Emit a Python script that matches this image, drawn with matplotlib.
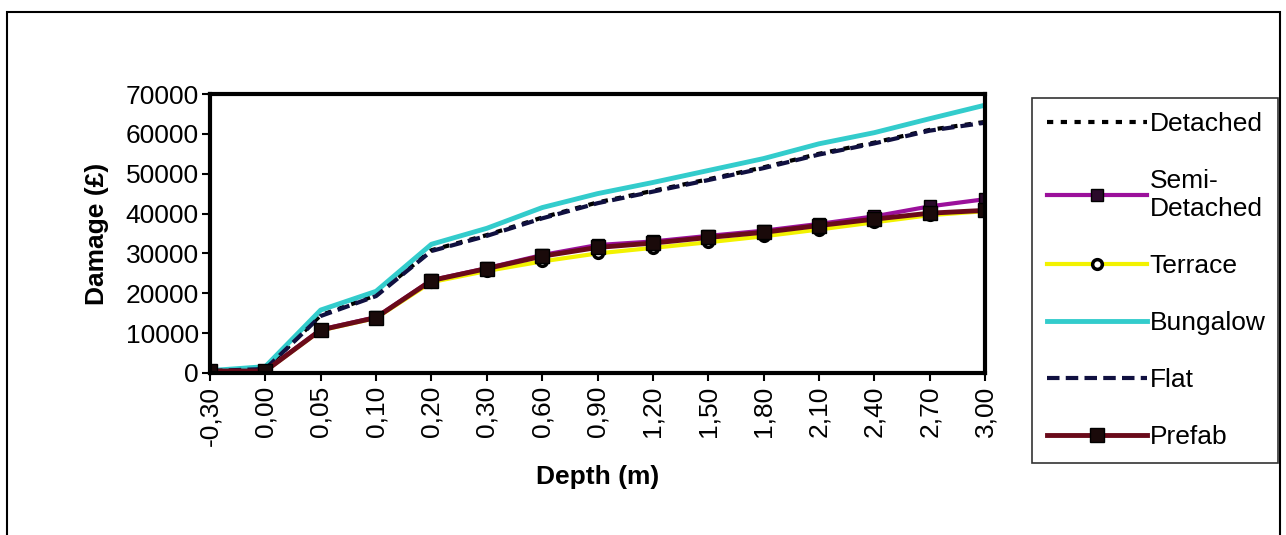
import matplotlib
matplotlib.use("Agg")
import matplotlib.pyplot as plt
from matplotlib.patches import Rectangle

plt.rcParams['font.family'] = ['Liberation Sans', 'DejaVu Sans']

depths = ["-0,30", "0,00", "0,05", "0,10", "0,20", "0,30", "0,60", "0,90",
          "1,20", "1,50", "1,80", "2,10", "2,40", "2,70", "3,00"]

detached = [500, 1000, 14500, 19500, 30800, 34600, 39000, 42800,
            45700, 48600, 51600, 55000, 57800, 61000, 63000]
semi_detached = [500, 600, 10900, 14000, 23300, 26300, 29600, 32100,
                 33000, 34400, 35700, 37400, 39300, 41800, 43600]
terrace = [500, 500, 10700, 13800, 22800, 25600, 28000, 30000,
           31400, 32800, 34300, 36000, 37800, 39600, 40600]
bungalow = [600, 1600, 15800, 20500, 32300, 36300, 41500, 45000,
            47800, 50800, 53800, 57500, 60300, 63800, 67200]
flat = [500, 1000, 14300, 19300, 30600, 34400, 38800, 42600,
        45500, 48400, 51400, 54800, 57600, 60800, 62800]
prefab = [500, 500, 10800, 13900, 23200, 26200, 29300, 31500,
          32600, 34000, 35300, 37000, 38600, 40100, 40800]

FS = 19

fig = plt.figure(figsize=(12.86, 5.35), dpi=100)
ax = fig.add_axes([210 / 1286, 1 - 373 / 535, 775 / 1286, 279 / 535])

x = list(range(len(depths)))
ax.plot(x, detached, color="black", lw=3, ls=(0, (1.5, 1.8)), label="Detached")
ax.plot(x, semi_detached, color="#9b109b", lw=3, marker="s", ms=8,
        mfc="#2a0a2a", mec="black", label="Semi-\nDetached")
ax.plot(x, terrace, color="#f2f200", lw=3, marker="o", ms=7,
        mfc="white", mec="black", mew=2.5, label="Terrace")
ax.plot(x, bungalow, color="#33cccc", lw=3.5, label="Bungalow")
ax.plot(x, flat, color="#101040", lw=3, ls=(0, (3, 1.5)), label="Flat")
ax.plot(x, prefab, color="#6a0a1a", lw=3.5, marker="s", ms=10,
        mfc="#1a0a0a", mec="black", label="Prefab")

ax.set_xlim(0, len(depths) - 1)
ax.set_ylim(0, 70000)
ax.set_yticks(range(0, 70001, 10000))
ax.set_xticks(x)
ax.set_xticklabels(depths, rotation=90, fontsize=FS)
ax.tick_params(axis="y", labelsize=FS, direction="out", length=6, width=1.5, pad=2)
ax.tick_params(axis="x", direction="out", length=6, width=1.5, pad=3)
for s in ax.spines.values():
    s.set_linewidth(3)

ax.set_ylabel("Damage (£)", fontsize=FS, fontweight="bold", labelpad=12)
ax.set_xlabel("Depth (m)", fontsize=FS, fontweight="bold", labelpad=14)

leg = fig.legend(loc="upper left",
                 bbox_to_anchor=(1032 / 1286, 1 - 103 / 535, 246 / 1286, 0.01),
                 mode="expand", fontsize=FS, frameon=True, fancybox=False,
                 edgecolor="black", handlelength=3.8, handletextpad=0.1,
                 labelspacing=1.25, borderpad=0.55, borderaxespad=0)
leg.get_frame().set_linewidth(1.2)

fig.patches.append(Rectangle((7 / 1286, -0.05), 1273 / 1286, 1.05 - 12 / 535,
                             transform=fig.transFigure, fill=False,
                             edgecolor="black", lw=1.5))

fig.savefig("out.png", dpi=100)
